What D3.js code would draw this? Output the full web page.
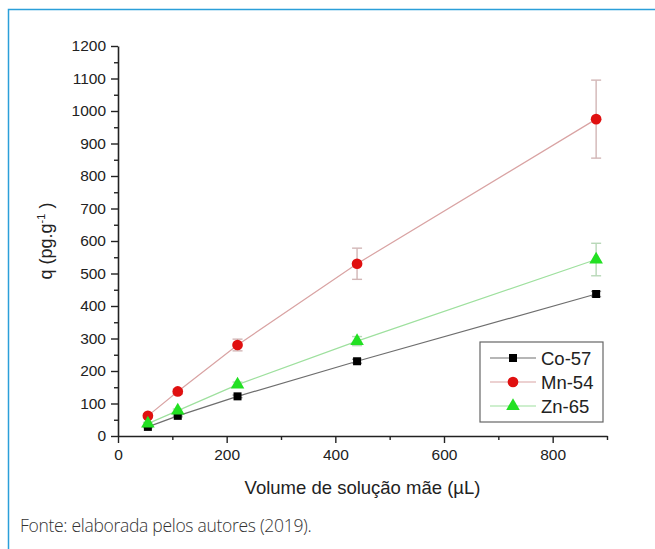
<!DOCTYPE html>
<html>
<head>
<meta charset="utf-8">
<script src="https://cdn.jsdelivr.net/npm/d3@7"></script>
<style>
  body { margin: 0; background: #fff; }
  svg { display: block; }
</style>
</head>
<body>
<div id="chart"></div>
<script>
const FRAME_WIDTH = 655;
const FRAME_HEIGHT = 549;
const MARGINS = {left: 118, right: 48, top: 46, bottom: 113};

const VIS_WIDTH = FRAME_WIDTH - MARGINS.left - MARGINS.right;
const VIS_HEIGHT = FRAME_HEIGHT - MARGINS.top - MARGINS.bottom;

const FONT = "Liberation Sans, Arial, sans-serif";

// data
const volumes = [55, 110, 220, 440, 880];
const co57 = [28, 62, 122, 230, 437];
const co57_err = [2, 3, 4, 6, 8];
const mn54 = [62, 137, 280, 530, 975];
const mn54_err = [6, 8, 18, 48, 120];
const zn65 = [38, 78, 158, 292, 543];
const zn65_err = [4, 5, 8, 14, 50];
const seriesNames = ["Co-57", "Mn-54", "Zn-65"];
const xTicks = [0, 200, 400, 600, 800];
const yTicks = [0, 100, 200, 300, 400, 500, 600, 700, 800, 900, 1000, 1100, 1200];

const STYLES = {
  "Co-57": {line: "#6e6e6e", fill: "#000000", err: "#9a9a9a", shape: d3.symbolSquare, size: 64},
  "Mn-54": {line: "#d9a3a3", fill: "#e01010", err: "#d2b6b6", shape: d3.symbolCircle, size: 90},
  "Zn-65": {line: "#9ee09e", fill: "#22e022", err: "#b8d8b8", shape: d3.symbolTriangle, size: 80}
};

const series = [
  {name: "Co-57", values: co57, errs: co57_err},
  {name: "Mn-54", values: mn54, errs: mn54_err},
  {name: "Zn-65", values: zn65, errs: zn65_err}
];

const FRAME = d3.select("#chart")
  .append("svg")
    .attr("width", FRAME_WIDTH)
    .attr("height", FRAME_HEIGHT);

// blue page frame (top + left)
FRAME.append("path")
  .attr("d", "M8.5," + FRAME_HEIGHT + " L8.5,9.5 L" + FRAME_WIDTH + ",9.5")
  .attr("fill", "none")
  .attr("stroke", "#2b9fd9")
  .attr("stroke-width", 1.5);

const X_SCALE = d3.scaleLinear().domain([0, 900]).range([0, VIS_WIDTH]);
const Y_SCALE = d3.scaleLinear().domain([0, 1200]).range([VIS_HEIGHT, 0]);

const G = FRAME.append("g")
  .attr("transform", "translate(" + MARGINS.left + "," + MARGINS.top + ")");

// minor ticks
G.append("g")
  .attr("transform", "translate(0," + VIS_HEIGHT + ")")
  .call(d3.axisBottom(X_SCALE).tickValues([100, 300, 500, 700, 900]).tickSize(4).tickFormat(""))
  .call(g => g.select(".domain").remove())
  .selectAll("line").attr("stroke", "#222").attr("stroke-width", 1.4);

G.append("g")
  .call(d3.axisLeft(Y_SCALE).tickValues(d3.range(50, 1200, 100)).tickSize(4).tickFormat(""))
  .call(g => g.select(".domain").remove())
  .selectAll("line").attr("stroke", "#222").attr("stroke-width", 1.4);

// major axes
const xAxis = G.append("g")
  .attr("transform", "translate(0," + VIS_HEIGHT + ")")
  .call(d3.axisBottom(X_SCALE).tickValues(xTicks).tickFormat(d3.format("d"))
        .tickSize(7).tickSizeOuter(0).tickPadding(6));
xAxis.select(".domain").attr("stroke", "#222").attr("stroke-width", 1.6);
xAxis.selectAll("line").attr("stroke", "#222").attr("stroke-width", 1.4);
xAxis.selectAll("text").attr("font-family", FONT).attr("font-size", "15.5px").attr("fill", "#222");

const yAxis = G.append("g")
  .call(d3.axisLeft(Y_SCALE).tickValues(yTicks).tickFormat(d3.format("d"))
        .tickSize(7).tickSizeOuter(0).tickPadding(5));
yAxis.select(".domain").attr("stroke", "#222").attr("stroke-width", 1.6);
yAxis.selectAll("line").attr("stroke", "#222").attr("stroke-width", 1.4);
yAxis.selectAll("text").attr("font-family", FONT).attr("font-size", "15.5px").attr("fill", "#222");

// lines
const LINE = d3.line()
  .x((d, i) => X_SCALE(volumes[i]))
  .y((d) => Y_SCALE(d));

series.forEach((s) => {
  const st = STYLES[s.name];
  G.append("path")
    .datum(s.values)
    .attr("d", LINE)
    .attr("fill", "none")
    .attr("stroke", st.line)
    .attr("stroke-width", 1.2);
});

// error bars
series.forEach((s) => {
  const st = STYLES[s.name];
  const eg = G.append("g").attr("stroke", st.err).attr("stroke-width", 1.4);
  s.values.forEach((v, i) => {
    const x = X_SCALE(volumes[i]);
    const y1 = Y_SCALE(v + s.errs[i]);
    const y2 = Y_SCALE(v - s.errs[i]);
    eg.append("line").attr("x1", x).attr("x2", x).attr("y1", y1).attr("y2", y2);
    eg.append("line").attr("x1", x - 5).attr("x2", x + 5).attr("y1", y1).attr("y2", y1);
    eg.append("line").attr("x1", x - 5).attr("x2", x + 5).attr("y1", y2).attr("y2", y2);
  });
});

// markers
series.forEach((s) => {
  const st = STYLES[s.name];
  G.selectAll(".pt-" + s.name)
    .data(s.values)
    .enter()
    .append("path")
      .attr("d", d3.symbol().type(st.shape).size(st.size))
      .attr("transform", (d, i) => "translate(" + X_SCALE(volumes[i]) + "," + Y_SCALE(d) + ")")
      .attr("fill", st.fill);
});

// axis titles
FRAME.append("text")
  .attr("x", MARGINS.left + VIS_WIDTH / 2)
  .attr("y", 494)
  .attr("text-anchor", "middle")
  .attr("font-family", FONT)
  .attr("font-size", "18.5px")
  .attr("fill", "#222")
  .text("Volume de solução mãe (µL)");

const yTitle = FRAME.append("text")
  .attr("transform", "translate(52," + (MARGINS.top + VIS_HEIGHT / 2) + ") rotate(-90)")
  .attr("text-anchor", "middle")
  .attr("font-family", FONT)
  .attr("font-size", "18px")
  .attr("fill", "#222");
yTitle.append("tspan").text("q (pg.g");
yTitle.append("tspan").attr("dy", -7).attr("font-size", "11px").text("-1");
yTitle.append("tspan").attr("dy", 7).text(" )");

// legend
const LEG = FRAME.append("g").attr("transform", "translate(480,342)");
LEG.append("rect")
  .attr("width", 123).attr("height", 80)
  .attr("fill", "#fff")
  .attr("stroke", "#666")
  .attr("stroke-width", 1.2);

seriesNames.forEach((name, i) => {
  const st = STYLES[name];
  const y = 16 + i * 24;
  LEG.append("line")
    .attr("x1", 10).attr("x2", 56).attr("y1", y).attr("y2", y)
    .attr("stroke", st.line).attr("stroke-width", 1.2);
  LEG.append("path")
    .attr("d", d3.symbol().type(st.shape).size(st.size))
    .attr("transform", "translate(33," + y + ")")
    .attr("fill", st.fill);
  LEG.append("text")
    .attr("x", 61).attr("y", y + 6.5)
    .attr("font-family", FONT)
    .attr("font-size", "18.5px")
    .attr("fill", "#222")
    .text(name);
});

// source note
FRAME.append("text")
  .attr("x", 20)
  .attr("y", 532)
  .attr("font-family", "Open Sans, sans-serif")
  .attr("font-weight", 300)
  .attr("font-size", "17.5px")
  .attr("letter-spacing", "-0.3px")
  .attr("fill", "#333")
  .text("Fonte: elaborada pelos autores (2019).");
</script>
</body>
</html>
